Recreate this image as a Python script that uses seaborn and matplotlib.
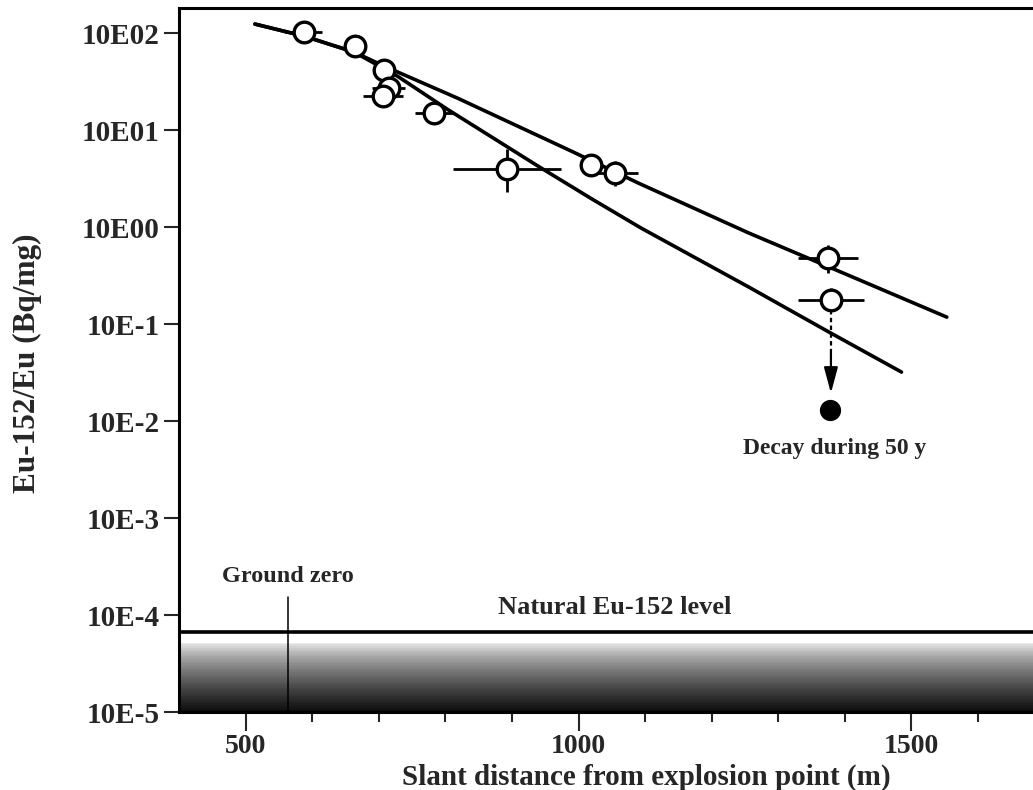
import numpy as np
import pandas as pd
import matplotlib
matplotlib.use("Agg")
import matplotlib.pyplot as plt
import seaborn as sns
from matplotlib.ticker import FixedLocator, FixedFormatter, NullLocator

# ---------------- data ----------------
distance_m = [587, 664, 708, 715, 707, 783, 893, 1018, 1055, 1374, 1379]
eu_ratio = [102, 73, 41.6, 27.5, 22.6, 15.1, 4.0, 4.35, 3.58, 0.475, 0.177]
x_err = [28, 0, 0, 25, 30, 28, 81, 0, 35, 45, 49]
y_err_low = [0, 0, 0, 0, 0, 0, 1.7, 0, 0.93, 0.139, 0.0]
y_err_high = [0, 0, 0, 0, 0, 0, 2.4, 0, 1.22, 0.175, 0.058]

curve_upper_x = [514, 588, 663, 708, 818, 989, 1090, 1256, 1373, 1553]
curve_upper_y = [124, 93, 63.7, 45.7, 21.4, 6.08, 2.84, 0.867, 0.396, 0.118]
curve_lower_x = [514, 588, 663, 728, 803, 939, 1020, 1094, 1256, 1376, 1485]
curve_lower_y = [124, 93, 63.7, 36.0, 16.4, 4.26, 1.95, 0.977, 0.240, 0.0828, 0.032]

decayed_x = [1378]
decayed_y = [0.013]
decay_path_y = [0.139, 0.054, 0.0194]   # dashed start, dashed end, arrow tip

natural_level = 6.7e-5
ground_zero_m = 563
ground_zero_top = 1.53e-4

y_tick_values = [1e-5, 1e-4, 1e-3, 1e-2, 1e-1, 1e0, 1e1, 1e2]
y_tick_labels = ["10E-5", "10E-4", "10E-3", "10E-2", "10E-1", "10E00", "10E01", "10E02"]
x_major_ticks = [500, 1000, 1500]
x_minor_ticks = [600, 700, 800, 900, 1100, 1200, 1300, 1400, 1600]

# ---------------- style ----------------
sns.set_theme(style="white")
plt.rcParams["font.family"] = ["Liberation Serif", "DejaVu Serif"]
plt.rcParams["font.weight"] = "bold"

fig = plt.figure(figsize=(10.33, 7.90), dpi=100)
ax = fig.add_axes([0.1733, 0.0987, 0.838, 0.891])
ax.set_yscale("log")
ax.set_xlim(400, 1700)
ax.set_ylim(1e-5, 181)

# noise-like band under the natural level: gray gradient
n_bands = 40
lo, hi = np.log10(1e-5), np.log10(5.2e-5)
edges = np.linspace(lo, hi, n_bands + 1)
for i in range(n_bands):
    frac = (i + 0.5) / n_bands          # 0 bottom -> 1 top
    dark = 0.92 * (1 - frac) ** 0.7 + 0.04
    g = 1 - dark
    ax.axhspan(10 ** edges[i], 10 ** edges[i + 1], color=(g, g, g), lw=0, zorder=0)

# natural level line
ax.axhline(natural_level, color="black", lw=2.6, zorder=2)

# ground zero line
ax.plot([ground_zero_m, ground_zero_m], [1e-5, ground_zero_top], color="black",
        lw=1.1, zorder=2)

# curves
curves = pd.DataFrame({"x": curve_upper_x, "y": curve_upper_y})
curves2 = pd.DataFrame({"x": curve_lower_x, "y": curve_lower_y})
sns.lineplot(data=curves, x="x", y="y", ax=ax, color="black", lw=2.6,
             sort=False, estimator=None, zorder=3)
sns.lineplot(data=curves2, x="x", y="y", ax=ax, color="black", lw=2.6,
             sort=False, estimator=None, zorder=3)

# error bars
ax.errorbar(distance_m, eu_ratio, xerr=x_err, yerr=[y_err_low, y_err_high],
            fmt="none", ecolor="black", elinewidth=2.0, capsize=0, zorder=4)

# measurement points
pts = pd.DataFrame({"x": distance_m, "y": eu_ratio})
sns.scatterplot(data=pts, x="x", y="y", ax=ax, s=220, facecolor="white",
                edgecolor="black", linewidth=2.4, zorder=5)

# decay arrow (dashed part, then solid arrow) and decayed point
ax.plot([distance_m[-1], distance_m[-1]], decay_path_y[:2], color="black",
        lw=1.6, linestyle=(0, (2, 1.5)), zorder=4)
ax.annotate("", xy=(distance_m[-1], decay_path_y[2]),
            xytext=(distance_m[-1], decay_path_y[1]),
            arrowprops=dict(arrowstyle="-|>,head_length=1.3,head_width=0.35",
                            color="black", lw=1.6, shrinkA=0, shrinkB=0),
            zorder=4)
sns.scatterplot(x=decayed_x, y=decayed_y, ax=ax, s=200, color="black",
                edgecolor="black", zorder=5)
ax.text(1385, 0.0052, "Decay during 50 y", ha="center", va="center",
        fontsize=17, fontweight="bold")

ax.text(ground_zero_m, 2.5e-4, "Ground zero", ha="center", va="center",
        fontsize=17.5, fontweight="bold")
ax.text(1055, 1.2e-4, "Natural Eu-152 level", ha="center", va="center",
        fontsize=19, fontweight="bold")

# axes styling
for side in ["left", "bottom", "top"]:
    ax.spines[side].set_visible(True)
    ax.spines[side].set_color("black")
    ax.spines[side].set_linewidth(2.2)
ax.spines["right"].set_visible(False)

ax.yaxis.set_major_locator(FixedLocator(y_tick_values))
ax.yaxis.set_major_formatter(FixedFormatter(y_tick_labels))
ax.yaxis.set_minor_locator(NullLocator())
ax.xaxis.set_major_locator(FixedLocator(x_major_ticks))
ax.xaxis.set_minor_locator(FixedLocator(x_minor_ticks))
ax.tick_params(axis="y", which="major", direction="out", length=11, width=1.5,
               pad=3, labelsize=21, left=True)
ax.tick_params(axis="x", which="major", direction="out", length=14, width=1.5,
               pad=2, labelsize=20, bottom=True)
ax.tick_params(axis="x", which="minor", direction="out", length=7, width=1.5,
               bottom=True)
for lab in ax.get_xticklabels() + ax.get_yticklabels():
    lab.set_fontweight("bold")

ax.set_xlabel("Slant distance from explosion point (m)", fontsize=21,
              fontweight="bold")
ax.set_ylabel("Eu-152/Eu (Bq/mg)", fontsize=22.5, fontweight="bold")
ax.xaxis.set_label_coords((646 - 179) / (1044.6 - 179), -(777 - 712) / 704)
ax.yaxis.set_label_coords(-(179 - 27) / (1044.6 - 179), (712 - 363) / 704)
ax.xaxis.label.set_va("center")
ax.yaxis.label.set_va("center")

fig.savefig("out.png", dpi=100, facecolor="white")
